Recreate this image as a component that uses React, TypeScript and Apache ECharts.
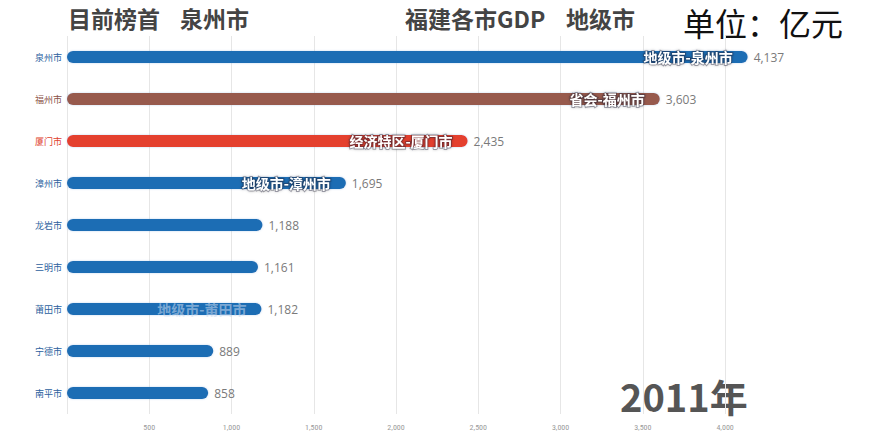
import React, { useEffect, useRef } from "react";
import * as echarts from "echarts";

const cities = ["泉州市", "福州市", "厦门市", "漳州市", "龙岩市", "三明市", "莆田市", "宁德市", "南平市"];
const gdp = [4137, 3603, 2435, 1695, 1188, 1161, 1182, 889, 858];
const cityType = ["地级市", "省会", "经济特区", "地级市", "地级市", "地级市", "地级市", "地级市", "地级市"];
const innerLabelState = ["full", "full", "full", "full", "none", "none", "fading", "none", "none"];
const yearLabel = "2011年";
const leaderLabel = "目前榜首";
const leaderCity = "泉州市";
const titleA = "福建各市GDP";
const titleB = "地级市";
const unitLabel = "单位：亿元";

const typeColor: Record<string, string> = {
  "地级市": "#1f6db4",
  "省会": "#975a4d",
  "经济特区": "#e4402e",
};
const typeLabelColor: Record<string, string> = {
  "地级市": "#2c5f9e",
  "省会": "#8a5147",
  "经济特区": "#e0412d",
};

const fmt = (v: number) => v.toLocaleString("en-US");

export default function App() {
  const ref = useRef<HTMLDivElement>(null);
  useEffect(() => {
    document.body.style.margin = "0";
    const chart = echarts.init(ref.current!, null, { renderer: "svg" });
    const cjk = '"Noto Sans CJK SC", "Noto Sans", sans-serif';
    chart.setOption({
      animation: false,
      backgroundColor: "#ffffff",
      grid: { left: 67, right: 124, top: 36, bottom: 28, containLabel: false },
      xAxis: {
        type: "value",
        min: 0,
        max: 4200,
        interval: 500,
        axisLine: { show: false },
        axisTick: { show: false },
        splitLine: { show: true, showMaxLine: false, lineStyle: { color: "#e6e6e6", width: 1 } },
        axisLabel: {
          showMinLabel: false,
          showMaxLabel: false,
          fontSize: 8,
          color: "#9a9a9a",
          margin: 9,
          fontFamily: '"Roboto Condensed", "Roboto", sans-serif',
          formatter: (v: number) => fmt(v),
        },
      },
      yAxis: {
        type: "category",
        inverse: true,
        data: cities,
        axisLine: { show: false },
        axisTick: { show: false },
        splitLine: { show: false },
        axisLabel: {
          fontSize: 9,
          margin: 5,
          fontFamily: cjk,
          color: (_v: string, i: number) => typeLabelColor[cityType[i]],
        },
      },
      series: [
        {
          type: "bar",
          barWidth: 12,
          data: gdp.map((v, i) => ({
            value: v,
            itemStyle: { color: typeColor[cityType[i]] },
          })),
          itemStyle: {
            borderRadius: 6,
            shadowColor: "rgba(120,170,220,0.45)",
            shadowBlur: 2,
          },
          label: {
            show: true,
            position: "right",
            distance: 6,
            fontSize: 12,
            color: "#7a7a7a",
            fontFamily: '"Open Sans", "Noto Sans", sans-serif',
            formatter: (p: any) => fmt(p.value),
          },
        },
        {
          type: "bar",
          barWidth: 12,
          barGap: "-100%",
          silent: true,
          z: 3,
          itemStyle: { color: "rgba(0,0,0,0)" },
          data: gdp.map((v, i) => ({
            value: v,
            label:
              innerLabelState[i] === "fading"
                ? {
                    show: true,
                    color: "rgba(205,220,240,0.55)",
                    textShadowBlur: 0,
                    textBorderWidth: 0,
                  }
                : { show: innerLabelState[i] === "full" },
          })),
          label: {
            position: "insideRight",
            distance: 15,
            fontSize: 14,
            fontWeight: "bold",
            color: "#ffffff",
            fontFamily: cjk,
            textBorderColor: "rgba(40,40,60,0.4)",
            textBorderWidth: 2,
            textShadowColor: "rgba(0,0,0,0.35)",
            textShadowBlur: 3,
            formatter: (p: any) => `${cityType[p.dataIndex]}-${cities[p.dataIndex]}`,
          },
        },
      ],
      graphic: [
        {
          type: "text",
          left: 68,
          top: 6,
          style: { text: leaderLabel, fontSize: 23, fontWeight: "bold", fill: "#444444", fontFamily: cjk },
        },
        {
          type: "text",
          left: 180,
          top: 6,
          style: { text: leaderCity, fontSize: 23, fontWeight: "bold", fill: "#444444", fontFamily: cjk },
        },
        {
          type: "text",
          left: 405,
          top: 6,
          style: { text: titleA, fontSize: 23, fontWeight: "bold", fill: "#444444", fontFamily: cjk },
        },
        {
          type: "text",
          left: 566,
          top: 6,
          style: { text: titleB, fontSize: 23, fontWeight: "bold", fill: "#444444", fontFamily: cjk },
        },
        {
          type: "text",
          left: 683,
          top: 6,
          style: { text: unitLabel, fontSize: 32, fontWeight: "normal", fill: "#111111", fontFamily: cjk },
        },
        {
          type: "text",
          left: 620,
          top: 376,
          style: {
            text: yearLabel,
            fontSize: 38,
            lineHeight: 38,
            fontWeight: "bold",
            fill: "#555555",
            fontFamily: cjk,
          },
        },
      ],
    });
    return () => chart.dispose();
  }, []);
  return <div ref={ref} style={{ width: 882, height: 442, position: "absolute", left: 0, top: 0 }} />;
}
